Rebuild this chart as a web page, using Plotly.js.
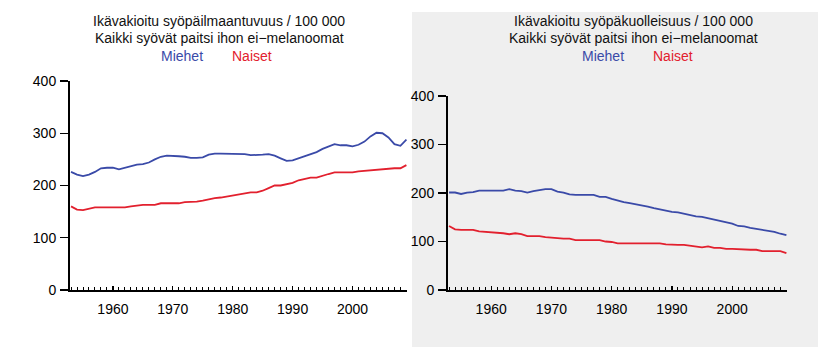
<!DOCTYPE html>
<html>
<head>
<meta charset="utf-8">
<script src="https://cdn.plot.ly/plotly-3.0.1.min.js"></script>
<style>html,body{margin:0;padding:0;background:#fff;}#chart{width:837px;height:347px;}</style>
</head>
<body>
<div id="chart"></div>
<script>
const years = [];
for (let y = 1953; y <= 2009; y++) years.push(y);

const incidenceMen = [226,221,218,221,226,233,234,234,231,234,
  237,240,241,244,250,255,257,257,256,255,
  253,253,254,259,261,261,261,261,261,260,
  258,258,259,260,257,252,247,248,252,257,
  261,264,270,275,279,277,277,275,278,284,
  294,301,300,292,279,276,288];
const incidenceWomen = [160,154,153,155,158,158,158,158,158,158,
  160,162,163,163,163,166,166,166,166,168,
  168,169,171,174,176,177,179,182,184,185,
  187,187,190,195,200,200,203,205,210,212,
  215,215,219,222,225,225,225,225,227,228,
  230,230,232,233,233,233,239];
const mortalityMen = [201,201,198,201,202,205,205,205,205,205,
  208,205,204,201,204,206,208,208,203,201,
  197,196,196,196,196,192,192,188,184,181,
  179,177,175,172,169,166,163,161,160,157,
  155,152,151,148,146,143,140,137,132,131,
  128,126,125,122,120,116,113];
const mortalityWomen = [132,125,124,124,124,121,120,120,118,117,
  115,117,115,111,111,111,109,108,106,106,
  106,103,103,103,103,103,100,99,96,96,
  96,96,96,96,96,96,94,93,93,93,
  91,89,88,90,87,87,85,85,84,83,
  83,83,80,80,80,80,76];

const titleLeft = ["Ikävakioitu syöpäilmaantuvuus / 100 000", "Kaikki syövät paitsi ihon ei\u2212melanoomat"];
const titleRight = ["Ikävakioitu syöpäkuolleisuus / 100 000", "Kaikki syövät paitsi ihon ei\u2212melanoomat"];
const seriesNames = ["Miehet", "Naiset"];
const yTicks = [0, 100, 200, 300, 400];
const xTicks = [1960, 1970, 1980, 1990, 2000];

const BLUE = "#3a4aa8", RED = "#e2202e";
const W = 837, H = 347;
const FONT = "Liberation Sans, Arial, Helvetica, sans-serif";

function line(x, y, color, xa, ya, name) {
  return {x: x, y: y, type: "scatter", mode: "lines", name: name,
    line: {color: color, width: 1.8}, xaxis: xa, yaxis: ya, hoverinfo: "skip"};
}

const traces = [
  line(years, incidenceMen, BLUE, "x", "y", seriesNames[0]),
  line(years, incidenceWomen, RED, "x", "y", seriesNames[1]),
  line(years, mortalityMen, BLUE, "x2", "y2", seriesNames[0]),
  line(years, mortalityWomen, RED, "x2", "y2", seriesNames[1])
];

function xax(d0, d1, anchor) {
  return {domain: [d0 / W, d1 / W], anchor: anchor, range: [1952.83, 2009.1],
    tickmode: "array", tickvals: xTicks, ticktext: xTicks.map(String),
    ticks: "inside", ticklen: 4, tickwidth: 1.2, tickcolor: "#000",
    minor: {dtick: 1, tick0: 1950, ticks: "inside", ticklen: 3, tickwidth: 1, tickcolor: "#000", showgrid: false},
    showline: true, linecolor: "#000", linewidth: 2, showgrid: false, zeroline: false,
    ticklabelstandoff: 5, tickfont: {family: FONT, size: 14, color: "#000"}, fixedrange: true};
}
function yax(top, bottom, anchor) {
  return {domain: [(H - bottom) / H, (H - top) / H], anchor: anchor, range: [0, 400],
    tickmode: "array", tickvals: yTicks, ticktext: yTicks.map(String),
    ticks: "outside", ticklen: 8, tickwidth: 1.2, tickcolor: "#000",
    showline: true, linecolor: "#000", linewidth: 2, showgrid: false, zeroline: false,
    ticklabelstandoff: 1, tickfont: {family: FONT, size: 14, color: "#000"}, fixedrange: true};
}

function titleAnn(cx, lines, miehetX, naisetX) {
  const a = [];
  a.push({text: lines[0], x: cx / W, y: 1 - 21 / H});
  a.push({text: lines[1], x: cx / W, y: 1 - 38 / H});
  a.push({text: seriesNames[0], x: miehetX / W, y: 1 - 56 / H, color: BLUE});
  a.push({text: seriesNames[1], x: naisetX / W, y: 1 - 56 / H, color: RED});
  return a.map(o => ({text: o.text, x: o.x, y: o.y, xref: "paper", yref: "paper",
    xanchor: "center", yanchor: "middle", showarrow: false,
    font: {family: FONT, size: 14, color: o.color || "#111"}}));
}

const layout = {
  width: W, height: H, margin: {l: 0, r: 0, t: 0, b: 0},
  paper_bgcolor: "#fff", plot_bgcolor: "rgba(0,0,0,0)", showlegend: false,
  xaxis: xax(70, 407, "y"),
  yaxis: yax(81, 290, "x"),
  xaxis2: xax(448, 787, "y2"),
  yaxis2: yax(96, 290, "x2"),
  shapes: [{type: "rect", xref: "paper", yref: "paper", x0: 412 / W, x1: 818 / W,
    y0: 0, y1: 1 - 12 / H, fillcolor: "#efefef", line: {width: 0}, layer: "below"}],
  annotations: titleAnn(219, titleLeft, 182, 252).concat(titleAnn(633, titleRight, 603, 673))
};

Plotly.newPlot("chart", traces, layout, {staticPlot: true, displayModeBar: false});
</script>
</body>
</html>
